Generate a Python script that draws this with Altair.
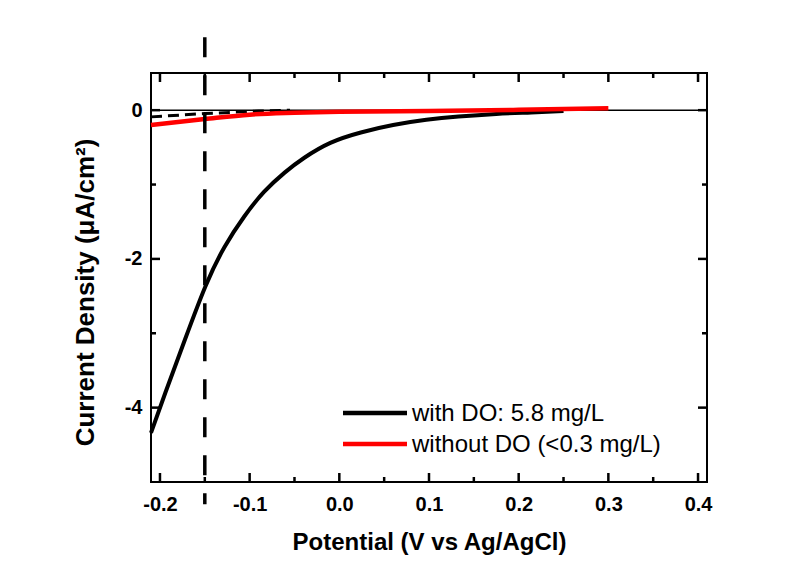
import altair as alt
import pandas as pd

# ---- data ----
with_do_x = [-0.21, -0.194, -0.172, -0.149, -0.128, -0.106, -0.084, -0.061, -0.039,
             -0.010, 0.024, 0.060, 0.097, 0.133, 0.175, 0.214, 0.25]
with_do_y = [-4.34, -3.80, -3.08, -2.36, -1.84, -1.43, -1.10, -0.84, -0.64,
             -0.44, -0.30, -0.20, -0.13, -0.085, -0.05, -0.03, -0.01]
without_do_x = [-0.21, -0.15, -0.10, -0.05, 0.0, 0.1, 0.2, 0.3]
without_do_y = [-0.20, -0.12, -0.06, -0.035, -0.02, -0.01, 0.005, 0.025]
dashed_x = [-0.21, -0.15, -0.09, -0.055]
dashed_y = [-0.09, -0.045, -0.012, 0.0]
marker_x = [-0.15]
marker_y_top = [0.98]
marker_y_bottom = [-5.3]
x_major = [-0.2, -0.1, 0.0, 0.1, 0.2, 0.3, 0.4]
x_minor = [-0.15, -0.05, 0.05, 0.15, 0.25, 0.35]
y_major = [-4, -2, 0]
y_minor = [-3, -1]
legend_labels = ["with DO: 5.8 mg/L", "without DO (<0.3 mg/L)"]
legend_colors = ["#000000", "#ff0000"]

W, H = 556, 409
FONT = "Liberation Sans"

xs = alt.Scale(domain=[-0.21, 0.41], nice=False, zero=False)
ys = alt.Scale(domain=[-5, 0.5], nice=False, zero=False)

axX = alt.Axis(values=x_major, ticks=False, domain=False, grid=False,
               labelExpr="datum.value < 0 ? '-' + format(-datum.value, '.1f') : format(datum.value, '.1f')",
               labelFont=FONT, labelFontSize=20, labelFontWeight="bold", labelColor="black",
               labelPadding=12, labelFlush=False,
               title="Potential (V vs Ag/AgCl)", titleFont=FONT, titleFontSize=24,
               titleFontWeight="bold", titleColor="black", titleBaseline="alphabetic",
               titleY=67, titleX=W / 2, titleAnchor="middle")
axY = alt.Axis(values=y_major, ticks=False, domain=False, grid=False,
               labelExpr="datum.value < 0 ? '-' + format(-datum.value, 'd') : format(datum.value, 'd')",
               labelFont=FONT, labelFontSize=20, labelFontWeight="bold", labelColor="black",
               labelPadding=9, labelFlush=False,
               title="Current Density (μA/cm²)", titleFont=FONT, titleFontSize=26,
               titleFontWeight="bold", titleColor="black", titleBaseline="alphabetic",
               titleAngle=270, titleX=-58, titleY=219)

def X(field):
    return alt.X(f"{field}:Q", scale=xs, axis=axX)

def Y(field):
    return alt.Y(f"{field}:Q", scale=ys, axis=axY)

def rows(**cols):
    keys = list(cols)
    return alt.Data(values=[dict(zip(keys, vals)) for vals in zip(*cols.values())])

layers = []

# inward ticks (mark_tick centred half a tick length inside each edge)
TICK = dict(color="black", thickness=2.5, opacity=1)

def xticks(vals, length):
    b = alt.Chart(rows(t=vals)).mark_tick(size=length, **TICK).encode(
        x=X("t"), y=alt.value(H - length / 2))
    t = alt.Chart(rows(t=vals)).mark_tick(size=length, **TICK).encode(
        x=X("t"), y=alt.value(length / 2))
    return [b, t]

def yticks(vals, length):
    l = alt.Chart(rows(t=vals)).mark_tick(size=length, **TICK).encode(
        y=Y("t"), x=alt.value(length / 2))
    r = alt.Chart(rows(t=vals)).mark_tick(size=length, **TICK).encode(
        y=Y("t"), x=alt.value(W - length / 2))
    return [l, r]

layers += xticks(x_major, 9) + xticks(x_minor, 5) + yticks(y_major, 9) + yticks(y_minor, 5)

# zero line
layers.append(alt.Chart(rows(y=[0])).mark_rule(color="black", strokeWidth=1.5)
              .encode(y=Y("y")))

# curves
layers.append(alt.Chart(rows(x=with_do_x, y=with_do_y)).mark_line(color="black", strokeWidth=4, interpolate="natural")
              .encode(x=X("x"), y=Y("y")))
layers.append(alt.Chart(rows(x=dashed_x, y=dashed_y)).mark_line(color="black", strokeWidth=3, strokeDash=[11, 6])
              .encode(x=X("x"), y=Y("y")))
layers.append(alt.Chart(rows(x=without_do_x, y=without_do_y)).mark_line(color="#ff0000", strokeWidth=4.5, interpolate="monotone")
              .encode(x=X("x"), y=Y("y")))

# vertical dashed marker
layers.append(alt.Chart(rows(x=marker_x, y=marker_y_top, y2=marker_y_bottom))
              .mark_rule(color="black", strokeWidth=3.5, strokeDash=[20, 18], clip=False)
              .encode(x=X("x"), y=Y("y"), y2="y2:Q"))

# legend
leg_y = [340, 371]
for lab, col, yy in zip(legend_labels, legend_colors, leg_y):
    d = rows(label=[lab])
    layers.append(alt.Chart(d).mark_rule(color=col, strokeWidth=4.5).encode(
        x=alt.value(192), x2=alt.value(256), y=alt.value(yy)))
    layers.append(alt.Chart(d).mark_text(align="left", baseline="middle", font=FONT,
                                         fontSize=24, color="black").encode(
        x=alt.value(261), y=alt.value(yy + 1), text="label:N"))

chart = alt.layer(*layers).properties(
    width=W, height=H,
    autosize=alt.AutoSizeParams(type="none"),
    padding={"left": 151, "top": 73, "right": 812 - 151 - W, "bottom": 566 - 73 - H},
    background="white",
).configure_view(stroke="black", strokeWidth=2)

chart.save("out.html", embed_options={"renderer": "svg", "actions": False})
